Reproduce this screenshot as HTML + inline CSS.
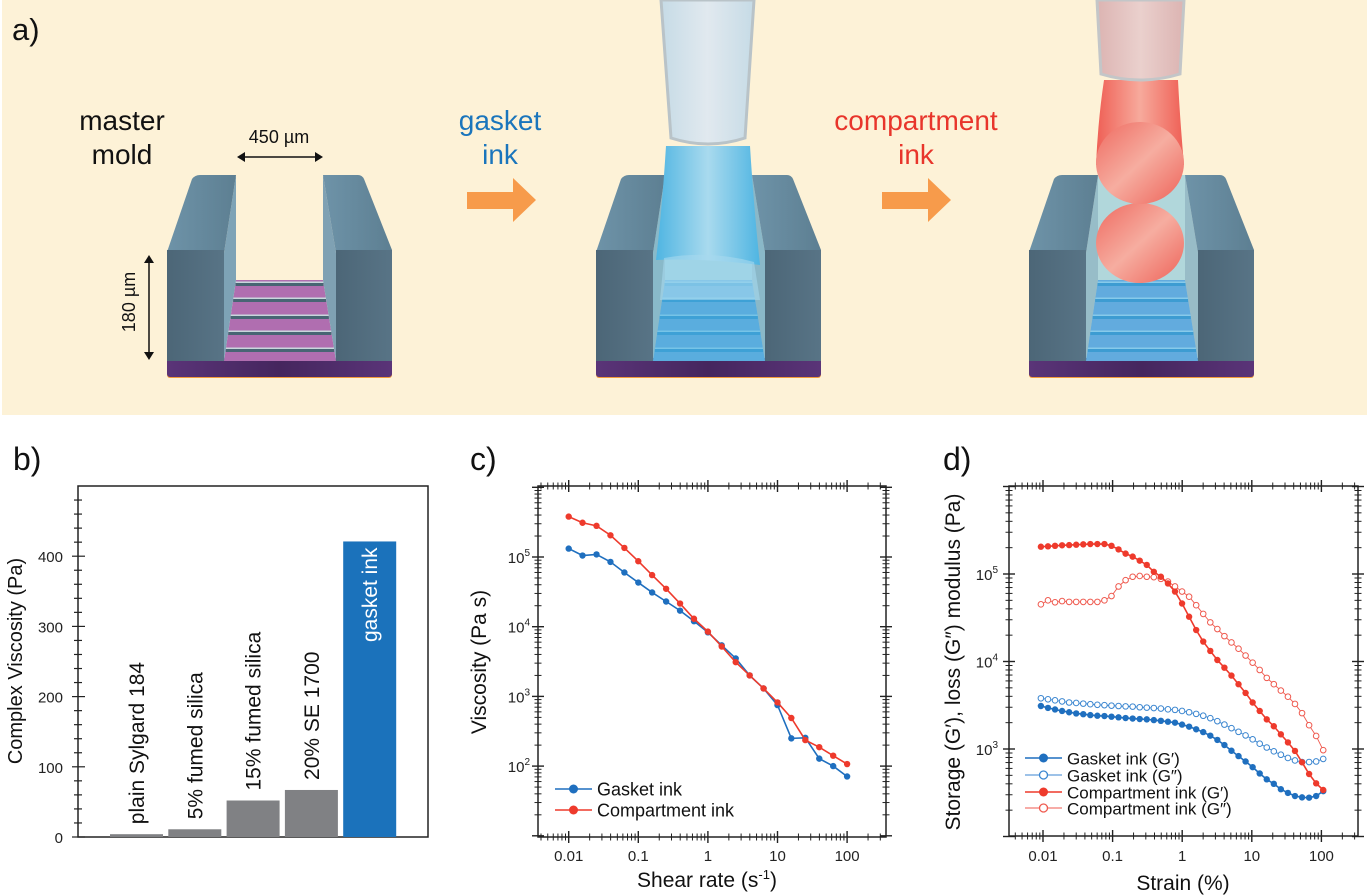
<!DOCTYPE html>
<html><head><meta charset="utf-8">
<style>
html,body{margin:0;padding:0;background:#fff;}
svg{display:block;font-family:"Liberation Sans",Arial,sans-serif;}
</style></head>
<body>
<svg id="fig" width="1367" height="895" viewBox="0 0 1367 895" xmlns="http://www.w3.org/2000/svg">
<defs>
<linearGradient id="topL" x1="0" x2="1"><stop offset="0" stop-color="#6e93a8"/><stop offset="1" stop-color="#5d7f92"/></linearGradient>
<linearGradient id="frontL" x1="0" x2="1"><stop offset="0" stop-color="#4c6677"/><stop offset="1" stop-color="#587486"/></linearGradient>
<linearGradient id="baseG" x1="0" x2="1"><stop offset="0" stop-color="#5a3478"/><stop offset="0.5" stop-color="#45265e"/><stop offset="1" stop-color="#5a3478"/></linearGradient>
<linearGradient id="nozB" x1="0" x2="1"><stop offset="0" stop-color="#c6dbe6"/><stop offset="0.5" stop-color="#e1e9ef"/><stop offset="1" stop-color="#c6dbe6"/></linearGradient>
<linearGradient id="nozR" x1="0" x2="1"><stop offset="0" stop-color="#dcb4b2"/><stop offset="0.5" stop-color="#ead0cd"/><stop offset="1" stop-color="#dcb4b2"/></linearGradient>
<linearGradient id="streamB" x1="0" x2="1"><stop offset="0" stop-color="#4fb5e2"/><stop offset="0.5" stop-color="#a9daee"/><stop offset="1" stop-color="#4fb5e2"/></linearGradient>
<linearGradient id="streamR" x1="0" x2="1"><stop offset="0" stop-color="#ef5f55"/><stop offset="0.5" stop-color="#f7aa9c"/><stop offset="1" stop-color="#ef5f55"/></linearGradient>
<linearGradient id="ballR" x1="0" y1="0" x2="1" y2="1"><stop offset="0" stop-color="#ef6a60"/><stop offset="0.5" stop-color="#f6ada0"/><stop offset="1" stop-color="#ee6258"/></linearGradient>
</defs>

<!-- Panel a -->
<g>
<rect x="2" y="0" width="1365" height="415" fill="#fdf2d7"/>
<text x="12" y="40" font-size="31" fill="#111">a)</text>
<g font-size="28" fill="#111" text-anchor="middle">
<text x="122" y="130">master</text><text x="122" y="164">mold</text></g>
<g font-size="28" fill="#1a75bc" text-anchor="middle">
<text x="500" y="130">gasket</text><text x="500" y="164">ink</text></g>
<g font-size="28" fill="#e8352b" text-anchor="middle">
<text x="916" y="130">compartment</text><text x="916" y="164">ink</text></g>
<polygon points="467,192 513,192 513,178 536,200 513,222 513,209 467,209" fill="#f79b4b"/>
<polygon points="882,192 928,192 928,178 951,200 928,222 928,209 882,209" fill="#f79b4b"/>
<g id="molds"></g>
<g>
<line x1="242" y1="157" x2="318" y2="157" stroke="#111" stroke-width="1.5"/>
<polygon points="237,157 245,152 245,162" fill="#111"/><polygon points="323,157 315,152 315,162" fill="#111"/>
<text x="279" y="143" font-size="18" text-anchor="middle" fill="#111">450 µm</text></g>
<g>
<line x1="149" y1="260" x2="149" y2="355" stroke="#111" stroke-width="1.5"/>
<polygon points="149,255 144,263 154,263" fill="#111"/><polygon points="149,360 144,352 154,352" fill="#111"/>
<text x="0" y="0" font-size="18" text-anchor="middle" fill="#111" transform="translate(135,302) rotate(-90)">180 µm</text></g>
</g>

<!-- Panel b -->
<g id="panelB">
<text x="13" y="470" font-size="32" fill="#111">b)</text>
<text x="0" y="0" font-size="20" text-anchor="middle" fill="#111" transform="translate(22,661) rotate(-90)">Complex Viscosity (Pa)</text>
<rect x="78" y="486" width="350" height="351" fill="none" stroke="#222" stroke-width="1.5"/>
</g>

<!-- Panel c -->
<g id="panelC">
<text x="470" y="470" font-size="32" fill="#111">c)</text>
<text x="0" y="0" font-size="21" text-anchor="middle" fill="#111" transform="translate(486,662) rotate(-90)">Viscosity (Pa s)</text>
<text x="707" y="887" font-size="21" text-anchor="middle" fill="#111">Shear rate (s<tspan font-size="13" dy="-8">-1</tspan><tspan dy="8">)</tspan></text>
<rect x="538" y="486" width="348" height="351" fill="none" stroke="#222" stroke-width="1.5"/>
</g>

<!-- Panel d -->
<g id="panelD">
<text x="943" y="470" font-size="32" fill="#111">d)</text>
<text x="0" y="0" font-size="21" text-anchor="middle" fill="#111" transform="translate(960,662) rotate(-90)">Storage (G′), loss (G″) modulus (Pa)</text>
<text x="1183" y="890" font-size="21" text-anchor="middle" fill="#111">Strain (%)</text>
<rect x="1009" y="486" width="349" height="350" fill="none" stroke="#222" stroke-width="1.5"/>
</g>
</svg>

<script>
// ---------- Panel b data ----------
const barCategories = ["plain Sylgard 184", "5% fumed silica", "15% fumed silica", "20% SE 1700", "gasket ink"];
const barValues = [4, 11, 52, 67, 421];
const barYTicks = [0, 100, 200, 300, 400];

// ---------- Panel c data ----------
const shearRate = [0.01,0.0158,0.0251,0.0398,0.0631,0.1,0.158,0.251,0.398,0.631,1,1.58,2.51,3.98,6.31,10,15.8,25.1,39.8,63.1,100];
const gasketViscosity = [1.32e5,1.05e5,1.09e5,8.5e4,6.0e4,4.3e4,3.1e4,2.3e4,1.7e4,1.2e4,8.3e3,5.4e3,3.5e3,2.0e3,1.3e3,750,250,255,128,100,71];
const compartmentViscosity = [3.8e5,3.1e5,2.8e5,2.05e5,1.35e5,8.7e4,5.5e4,3.5e4,2.15e4,1.3e4,8.5e3,5.2e3,3.1e3,2.0e3,1.3e3,820,490,236,187,141,107];
const cXTickLabels = ["0.01","0.1","1","10","100"];
const cYTickExps = [2,3,4,5];

// ---------- Panel d data ----------
const strain = [0.00933,0.01179,0.01489,0.0188,0.02375,0.02999,0.03789,0.04784,0.06043,0.07631,0.09638,0.1217,0.1537,0.1942,0.2452,0.3097,0.3912,0.4941,0.624,0.7881,0.9954,1.257,1.588,2.005,2.533,3.199,4.04,5.103,6.445,8.14,10.28,12.99,16.4,20.72,26.16,33.04,41.73,52.71,66.57,84.08,106.2];
const gasketGp = [3.1e3,2.95e3,2.83e3,2.72e3,2.63e3,2.55e3,2.5e3,2.44e3,2.4e3,2.38e3,2.34e3,2.3e3,2.26e3,2.23e3,2.2e3,2.18e3,2.14e3,2.1e3,2.05e3,2.0e3,1.9e3,1.8e3,1.68e3,1.56e3,1.42e3,1.27e3,1.11e3,955,830,720,620,525,450,400,347,315,290,280,278,290,330];
const gasketGpp = [3.8e3,3.7e3,3.6e3,3.5e3,3.4e3,3.36e3,3.3e3,3.25e3,3.2e3,3.17e3,3.13e3,3.1e3,3.07e3,3.05e3,3.0e3,2.97e3,2.94e3,2.9e3,2.84e3,2.8e3,2.72e3,2.63e3,2.52e3,2.4e3,2.25e3,2.08e3,1.9e3,1.73e3,1.57e3,1.43e3,1.29e3,1.15e3,1.04e3,940,860,790,740,710,710,720,770];
const compGp = [2.05e5,2.07e5,2.1e5,2.13e5,2.14e5,2.16e5,2.18e5,2.2e5,2.2e5,2.2e5,2.1e5,1.91e5,1.71e5,1.58e5,1.42e5,1.27e5,1.06e5,9.3e4,7.8e4,6.3e4,4.6e4,3.25e4,2.29e4,1.69e4,1.32e4,1.04e4,8.5e3,6.9e3,5.5e3,4.37e3,3.4e3,2.72e3,2.18e3,1.82e3,1.47e3,1.19e3,950,705,518,405,340];
const compGpp = [4.5e4,5.0e4,4.75e4,4.9e4,4.8e4,4.8e4,4.8e4,4.8e4,4.8e4,5.0e4,5.6e4,7.2e4,8.5e4,9.3e4,9.5e4,9.3e4,9.2e4,8.8e4,8.2e4,7.2e4,6.3e4,5.5e4,4.4e4,3.5e4,2.8e4,2.35e4,1.95e4,1.65e4,1.4e4,1.17e4,9.7e3,8.0e3,6.5e3,5.5e3,4.65e3,3.96e3,3.27e3,2.57e3,1.87e3,1.41e3,970];
const dXTickLabels = ["0.01","0.1","1","10","100"];
const dYTickExps = [3,4,5];

const NS = "http://www.w3.org/2000/svg";
function mk(tag, attrs, parent){
  const e = document.createElementNS(NS, tag);
  for (const k in attrs) e.setAttribute(k, attrs[k]);
  parent.appendChild(e);
  return e;
}

// ---------- Molds ----------
const molds = document.getElementById('molds');
[0, 429, 862].forEach((dx, mi) => {
  const g = mk('g', {transform: 'translate(' + dx + ',0)'}, molds);
  
  
  const filled = mi > 0;
  mk('rect', {x:167, y:370, width:225, height:8, rx:3, fill:'#f39a3b'}, g);
  mk('rect', {x:167, y:358, width:225, height:19, rx:3, fill:'url(#baseG)'}, g);
  mk('polygon', {points:'236,280 323,280 336,361 224,361', fill: filled ? '#7aa8dc' : '#b06eb0'}, g);
  [283, 299, 316, 332, 349].forEach((y, i) => {
    const t = (y - 280) / 81, xl = 236 - 12 * t, xr = 323 + 13 * t;
    mk('rect', {x:xl, y:y, width:xr - xl, height:3, fill: filled ? '#3d8fc9' : '#486574'}, g);
    mk('rect', {x:xl, y:y - 1.5, width:xr - xl, height:1.5, fill: filled ? '#b8dcf0' : '#c9d6dc'}, g);
  });
  if (filled) {
    mk('polygon', {points:'224,253 236,175 323,175 336,253 336,361 224,361', fill:'#3fb0e0', opacity: mi === 1 ? 0.55 : 0.4}, g);
  }
  mk('polygon', {points:'224,253 236,175 236,280 224,361', fill:'#7ea3b6', opacity: filled ? 0.5 : 1}, g);
  mk('polygon', {points:'323,175 336,253 336,361 323,280', fill:'#7fa1b3', opacity: filled ? 0.5 : 1}, g);
  mk('path', {d:'M167,252 L192,179 Q195,175 200,175 L236,175 L224,253 Z', fill:'url(#topL)'}, g);
  mk('rect', {x:167, y:250, width:57, height:111, fill:'url(#frontL)'}, g);
  mk('path', {d:'M323,175 L358,175 Q362,175 364,179 L392,250 L336,253 Z', fill:'url(#topL)'}, g);
  mk('rect', {x:336, y:250, width:56, height:111, fill:'url(#frontL)'}, g);
});
// mold 2 nozzle + stream
(function(){
  const g = mk('g', {}, molds);
  
  
  mk('path', {d:'M666,146 Q662,210 656,260 Q700,258 760,265 Q754,210 750,146 Z', fill:'url(#streamB)'}, g);
  mk('path', {d:'M664,258 Q710,250 754,262 L760,300 L660,300 Z', fill:'#a6d9ee', opacity:0.6}, g);
  mk('path', {d:'M661,0 L754,0 L745,138 Q708,150 671,138 Z', fill:'url(#nozB)', stroke:'#b9c3c8', 'stroke-width':3}, g);
})();
// mold 3 nozzle + compartment ink
(function(){
  const g = mk('g', {}, molds);
  
  
  mk('path', {d:'M1104,80 Q1098,120 1096,165 L1184,165 Q1180,120 1178,80 Z', fill:'url(#streamR)'}, g);
  mk('ellipse', {cx:1140, cy:243, rx:44, ry:40, fill:'url(#ballR)'}, g);
  mk('ellipse', {cx:1140, cy:163, rx:44, ry:41, fill:'url(#ballR)'}, g);
  mk('path', {d:'M1097,0 L1184,0 L1180,74 Q1140,86 1101,74 Z', fill:'url(#nozR)', stroke:'#c3c6c8', 'stroke-width':3}, g);
})();

// ---------- Panel b ----------
(function(){
  const P = document.getElementById('panelB');
  const y0 = 837, pxPer = 351 / 500;
  const yS = v => y0 - v * pxPer;
  for (let v = 0; v <= 480; v += 20) {
    const major = v % 100 === 0;
    const t = mk('line', {x1: major ? 72 : 74, x2: major ? 85 : 82, y1: yS(v), y2: yS(v), stroke:'#222', 'stroke-width':1.2}, P);
    
    
  }
  barYTicks.forEach(v => {
    const t = mk('text', {x: 63, y: yS(v) + 6, 'font-size': 15, 'text-anchor':'end', fill:'#222'}, P);
    t.textContent = v;
    
    
  });
  const x0 = 110, step = 58.3, bw = 53;
  barCategories.forEach((c, i) => {
    const isGasket = i === barCategories.length - 1;
    const x = x0 + i * step, top = yS(barValues[i]);
    const r = mk('rect', {x: x, y: top, width: bw, height: y0 - top, fill: isGasket ? '#1b72bb' : '#808184'}, P);
    
    
    const cx = x + bw / 2 + 7.5;
    const ty = isGasket ? top + 6 : top - 10;
    const t = mk('text', {x: 0, y: 0, 'font-size': 21, 'text-anchor': isGasket ? 'end' : 'start', fill: isGasket ? '#fff' : '#111', transform: 'translate(' + cx + ',' + ty + ') rotate(-90)'}, P);
    t.textContent = c;
    
    
  });
})();

// ---------- log axes helper ----------
function logTicks(P, box, xS, yS, xMin, xMax, yMin, yMax, prefix){
  for (let k = -3; k <= 6; k++) {
    for (let m = 1; m <= 9; m++) {
      const v = m * Math.pow(10, k);
      const major = m === 1, L = major ? 6 : 3.5;
      if (v >= xMin && v <= xMax) {
        const x = xS(v);
        [box.y0, box.y1].forEach(yy => {
          const t = mk('line', {x1:x, x2:x, y1: yy - L, y2: yy + L, stroke:'#222', 'stroke-width': major ? 1.4 : 1}, P);
          
          
        });
      }
      if (v >= yMin && v <= yMax) {
        const y = yS(v);
        [box.x0, box.x1].forEach(xx => {
          const t = mk('line', {x1: xx - L, x2: xx + L, y1: y, y2: y, stroke:'#222', 'stroke-width': major ? 1.4 : 1}, P);
          
          
        });
      }
    }
  }
}
function series(P, xs, ys, xS, yS, color, lw, filled, name){
  const pts = xs.map((x, i) => xS(x) + ',' + yS(ys[i])).join(' ');
  const l = mk('polyline', {points: pts, fill:'none', stroke: color, 'stroke-width': lw}, P);
  
  
  xs.forEach((x, i) => {
    const c = mk('circle', {cx: xS(x), cy: yS(ys[i]), r: filled ? 3.2 : 2.8, fill: filled ? color : '#fff', stroke: color, 'stroke-width': filled ? 0 : 1}, P);
    
    
  });
}
function legend(P, x, y, color, filled, label, lw, fs){
  const l = mk('line', {x1: x, x2: x + 37, y1: y, y2: y, stroke: color, 'stroke-width': lw}, P);
  
  
  const c = mk('circle', {cx: x + 18.5, cy: y, r: filled ? 4.5 : 4, fill: filled ? color : '#fff', stroke: color, 'stroke-width': filled ? 0 : 1.3}, P);
  
  
  const t = mk('text', {x: x + 42, y: y + 6.5, 'font-size': fs, fill:'#111'}, P);
  t.textContent = label;
  
  
}
function expLabel(P, x, y, exp, name){
  const t = mk('text', {x: x, y: y, 'font-size': 15, 'text-anchor':'end', fill:'#222'}, P);
  
  
  const a = document.createElementNS(NS, 'tspan'); a.textContent = '10'; t.appendChild(a);
  const b = document.createElementNS(NS, 'tspan'); b.setAttribute('font-size', '10'); b.setAttribute('dy', '-7'); b.textContent = exp; t.appendChild(b);
}

// ---------- Panel c ----------
(function(){
  const P = document.getElementById('panelC');
  const xS = v => 568.7 + (Math.log10(v) + 2) * 69.6;
  const yS = v => 557 - (Math.log10(v) - 5) * 69.7;
  logTicks(P, {x0:538, x1:886, y0:486, y1:837}, xS, yS, 0.004, 300, 10, 1e6, 'c');
  cXTickLabels.forEach(s => {
    const t = mk('text', {x: xS(parseFloat(s)), y: 861, 'font-size': 15, 'text-anchor':'middle', fill:'#222'}, P);
    t.textContent = s;
    
    
  });
  cYTickExps.forEach(e => expLabel(P, 530, yS(Math.pow(10, e)) + 6, e, 'y-tick-label-c'));
  series(P, shearRate, gasketViscosity, xS, yS, '#1f6fbf', 1.6, true, 'gasket-viscosity');
  series(P, shearRate, compartmentViscosity, xS, yS, '#ee3a2c', 1.6, true, 'compartment-viscosity');
  legend(P, 555, 789, '#1f6fbf', true, 'Gasket ink', 1.6, 18);
  legend(P, 555, 810, '#ee3a2c', true, 'Compartment ink', 1.6, 18);
})();

// ---------- Panel d ----------
(function(){
  const P = document.getElementById('panelD');
  const xS = v => 1043 + (Math.log10(v) + 2) * 69.6;
  const yS = v => 574 - (Math.log10(v) - 5) * 87.5;
  logTicks(P, {x0:1009, x1:1358, y0:486, y1:836}, xS, yS, 0.004, 300, 100, 1e6, 'd');
  dXTickLabels.forEach(s => {
    const t = mk('text', {x: xS(parseFloat(s)), y: 861, 'font-size': 15, 'text-anchor':'middle', fill:'#222'}, P);
    t.textContent = s;
    
    
  });
  dYTickExps.forEach(e => expLabel(P, 998, yS(Math.pow(10, e)) + 6, e, 'y-tick-label-d'));
  series(P, strain, gasketGpp, xS, yS, '#3b86d0', 0.9, false, 'gasket-loss');
  series(P, strain, compGpp, xS, yS, '#ef5a4f', 0.9, false, 'compartment-loss');
  series(P, strain, gasketGp, xS, yS, '#1f6fbf', 1.6, true, 'gasket-storage');
  series(P, strain, compGp, xS, yS, '#ee3a2c', 1.6, true, 'compartment-storage');
  legend(P, 1025, 758, '#1f6fbf', true, 'Gasket ink (G′)', 1.6, 17);
  legend(P, 1025, 775, '#3b86d0', false, 'Gasket ink (G″)', 0.9, 17);
  legend(P, 1025, 792, '#ee3a2c', true, 'Compartment ink (G′)', 1.6, 17);
  legend(P, 1025, 808, '#ef5a4f', false, 'Compartment ink (G″)', 0.9, 17);
})();
</script>
</body></html>
